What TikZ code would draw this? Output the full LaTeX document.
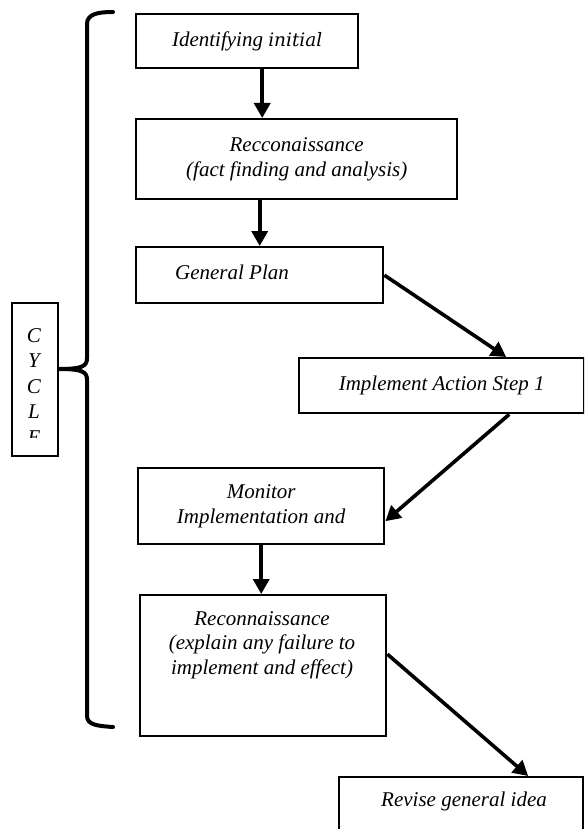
\documentclass[tikz,border=0pt]{standalone}
\usepackage{fontspec}
\setmainfont{Liberation Serif}
\newfontfamily\initfont{DejaVu Serif}
\usetikzlibrary{arrows.meta}
\tikzset{
  box/.style={draw, line width=2.4pt, anchor=north west, inner sep=0pt, align=center,
    font=\itshape\fontsize{21}{24.5}\selectfont},
  txt/.style={inner sep=0pt, align=center, font=\itshape\fontsize{21}{24.5}\selectfont},
  arr/.style={line width=3.6pt, -{Triangle[length=15pt,width=16pt]}},
  brace/.style={line width=4pt, line cap=round}
}
\begin{document}
\begin{tikzpicture}[x=1pt,y=-1pt]
\useasboundingbox (0,0) rectangle (584,829);
\clip (0,0) rectangle (584,829);
% boxes
\node[box, minimum width=222pt, minimum height=54pt] (b1) at (135,13)
  {Identifying {\initfont\fontsize{18.5}{20}\selectfont initial}};
\node[box, minimum width=321pt, minimum height=80pt] (b2) at (135,118)
  {Recconaissance\\(fact finding and analysis)};
\node[box, minimum width=247pt, minimum height=56pt] (b3) at (135,246) {};
\node[txt] (t3) at (232,272) {General Plan};
\node[box, minimum width=285pt, minimum height=55pt] (b4) at (298,357)
  {Implement Action Step 1};
\node[box, minimum width=246pt, minimum height=76pt] (b5) at (137,467)
  {Monitor\\Implementation and};
\node[box, minimum width=246pt, minimum height=141pt] (b6) at (139,594) {};
\node[txt, anchor=north] (t6) at (262,611)
  {Reconnaissance\\(explain any failure to\\implement and effect)};
\node[box, minimum width=244pt, minimum height=70pt] (b7) at (338,776) {};
\node[txt] (t7) at (464,801) {Revise general idea};
% cycle box
\node[box, minimum width=46pt, minimum height=153pt] (cy) at (11,302) {};
\begin{scope}
  \clip (11,302) rectangle (57,437);
  \node[txt, anchor=north, font=\itshape\fontsize{21}{25.5}\selectfont] (cyt) at (34,328) {C\\Y\\C\\L\\E};
\end{scope}
% brace
\draw[brace] (113,12) .. controls (98,12) and (87,14) .. (87,24) -- (87,358)
  .. controls (87,366) and (83,369) .. (59,369)
  .. controls (83,369) and (87,372) .. (87,380) -- (87,716)
  .. controls (87,725) and (98,726) .. (113,727);
% arrows
\draw[arr] ([xshift=15pt]b1.south) -- ([xshift=-34.5pt]b2.north);
\draw[arr] (b3.north |- b2.south) -- (b3.north);
\draw[arr] (b3.east) -- ([xshift=64.5pt]b4.north);
\draw[arr] ([xshift=67.5pt]b4.south) -- ([yshift=-15pt]b5.east);
\draw[arr] (b5.south) -- (b5.south |- b6.north);
\draw[arr] ([yshift=11.5pt]b6.east) -- ([xshift=67pt]b7.north);
\end{tikzpicture}
\end{document}
